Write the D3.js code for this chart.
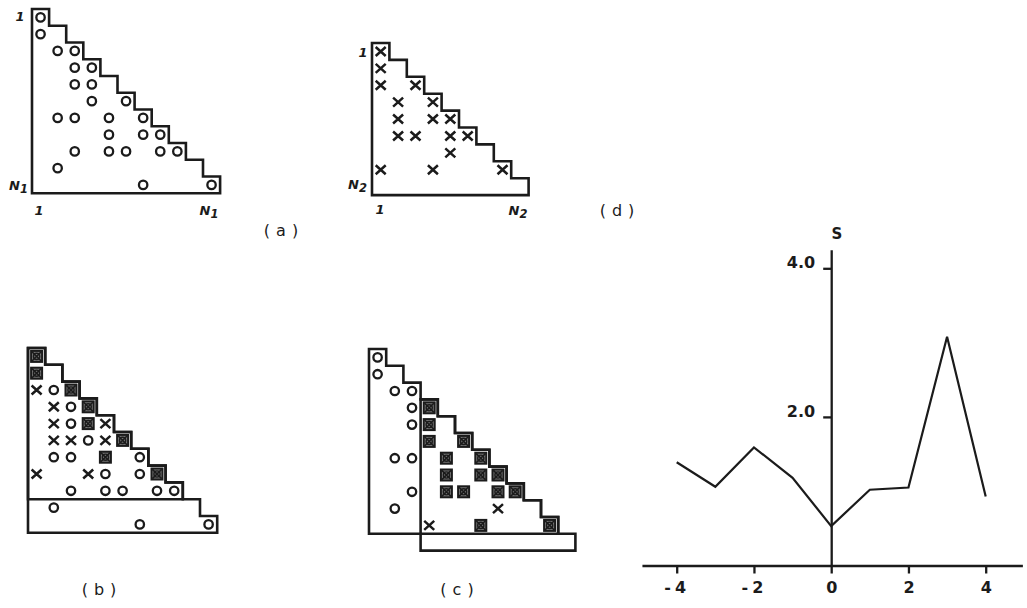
<!DOCTYPE html>
<html>
<head>
<meta charset="utf-8">
<script src="https://cdn.jsdelivr.net/npm/d3@7"></script>
<style>
  html, body { margin: 0; padding: 0; background: #fff; }
  svg { display: block; }
</style>
</head>
<body>
<svg id="fig" width="1027" height="608"></svg>
<script>
// Occupied cells of the first matrix (order N1), as [row, col]
const n1 = 11;
const cellsN1 = [
  [0,0],[1,0],[2,1],[2,2],[3,2],[3,3],[4,2],[4,3],[5,3],[5,5],
  [6,1],[6,2],[6,4],[6,6],[7,4],[7,6],[7,7],
  [8,2],[8,4],[8,5],[8,7],[8,8],[9,1],[10,6],[10,10]
];
// Occupied cells of the second matrix (order N2), as [row, col]
const n2 = 9;
const cellsN2 = [
  [0,0],[1,0],[2,0],[2,2],[3,1],[3,3],[4,1],[4,3],[4,4],
  [5,1],[5,2],[5,4],[5,5],[6,4],[7,0],[7,3],[7,7]
];
// Diagonal offsets at which the second matrix is laid over the first
const overlayOffsets = [0, 3];
// Similarity score S against relative shift
const shifts = [-4, -3, -2, -1, 0, 1, 2, 3, 4];
const scores = [1.39, 1.06, 1.59, 1.18, 0.53, 1.02, 1.05, 3.08, 0.93];
const shiftTicks = [-4, -2, 0, 2, 4];
const scoreTicks = [2, 4];
const panelLabels = ["(a)", "(b)", "(c)", "(d)"];

const ink = "#1b1b1b";
const svg = d3.select("#fig");
const font = "'DejaVu Sans', 'Noto Sans', sans-serif";

// Cell grid for one matrix drawing: column / row index -> pixel
function grid(left, top, w, h, n) {
  return {
    x: d3.scaleLinear().domain([0, n]).range([left, left + n * w]),
    y: d3.scaleLinear().domain([0, n]).range([top, top + n * h])
  };
}

// Outline of a lower-triangular block of order n whose corner sits at (off, off)
function stairOutline(g, sc, off, n) {
  const pts = [[off, off]];
  for (let i = 0; i < n; i++) {
    pts.push([off + i + 1, off + i]);
    pts.push([off + i + 1, off + i + 1]);
  }
  pts.push([off, off + n]);
  const line = d3.line().x(p => sc.x(p[0])).y(p => sc.y(p[1]));
  g.append("path")
    .attr("d", line(pts) + "Z")
    .attr("fill", "none")
    .attr("stroke", ink)
    .attr("stroke-width", 2.6)
    .attr("stroke-linejoin", "miter");
}

function drawCircle(g, cx, cy) {
  g.append("circle").attr("cx", cx).attr("cy", cy).attr("r", 4.2)
    .attr("fill", "none").attr("stroke", ink).attr("stroke-width", 2.3);
}
function drawCross(g, cx, cy) {
  g.append("path")
    .attr("d", `M${cx-5},${cy-4.5}L${cx+5},${cy+4.5}M${cx-5},${cy+4.5}L${cx+5},${cy-4.5}`)
    .attr("stroke", ink).attr("stroke-width", 2.5).attr("fill", "none");
}
function drawBoth(g, cx, cy) {
  g.append("rect").attr("x", cx - 5.5).attr("y", cy - 5.5).attr("width", 11).attr("height", 11)
    .attr("fill", "#7a7a7a").attr("stroke", ink).attr("stroke-width", 2);
  g.append("path")
    .attr("d", `M${cx-4.6},${cy-4.6}L${cx+4.6},${cy+4.6}M${cx-4.6},${cy+4.6}L${cx+4.6},${cy-4.6}`)
    .attr("stroke", ink).attr("stroke-width", 1.6);
  g.append("circle").attr("cx", cx).attr("cy", cy).attr("r", 3.1)
    .attr("fill", "none").attr("stroke", ink).attr("stroke-width", 1.4);
}

// Corner labels "1" and "N_k" beside a matrix
function indexLabel(x, y, sub, anchor) {
  const t = svg.append("text")
    .attr("x", x).attr("y", y)
    .attr("text-anchor", anchor)
    .attr("font-family", font)
    .attr("font-style", "italic")
    .attr("font-weight", "bold")
    .attr("font-size", 13)
    .attr("fill", ink);
  if (sub) {
    t.append("tspan").text("N");
    t.append("tspan").attr("dy", 3).attr("font-size", 11.5).text(sub);
  } else {
    t.text("1");
  }
}

function panelLabel(text, cx, baseline) {
  svg.append("text")
    .attr("x", cx).attr("y", baseline)
    .attr("text-anchor", "middle")
    .attr("font-family", font)
    .attr("font-size", 16)
    .attr("letter-spacing", 6)
    .attr("fill", ink)
    .text(text);
}

// ---------- first matrix alone ----------
{
  const sc = grid(32, 9, 17.1, 16.75, n1);
  const g = svg.append("g");
  stairOutline(g, sc, 0, n1);
  cellsN1.forEach(([r, c]) => drawCircle(g, sc.x(c + 0.5), sc.y(r + 0.5)));
  indexLabel(20, 21, null, "middle");
  indexLabel(28, 190, "1", "end");
  indexLabel(39, 215, null, "middle");
  indexLabel(209, 215, "1", "middle");
  panelLabel(panelLabels[0], 284, 236);
}

// ---------- second matrix alone ----------
{
  const sc = grid(372, 43, 17.4, 16.9, n2);
  const g = svg.append("g");
  stairOutline(g, sc, 0, n2);
  cellsN2.forEach(([r, c]) => drawCross(g, sc.x(c + 0.5), sc.y(r + 0.5)));
  indexLabel(363, 57, null, "middle");
  indexLabel(367, 189, "2", "end");
  indexLabel(380, 214, null, "middle");
  indexLabel(518, 215, "2", "middle");
}

// ---------- overlays of the second matrix on the first ----------
function overlay(left, top, off, label, labelX) {
  const sc = grid(left, top, 17.2, 16.8, n1 + 1);
  const g = svg.append("g");
  stairOutline(g, sc, 0, n1);
  stairOutline(g, sc, off, n2);
  const marks = new Map();
  cellsN1.forEach(([r, c]) => marks.set(r + "," + c, { r, c, o: true, x: false }));
  cellsN2.forEach(([r, c]) => {
    const k = (r + off) + "," + (c + off);
    if (marks.has(k)) marks.get(k).x = true;
    else marks.set(k, { r: r + off, c: c + off, o: false, x: true });
  });
  marks.forEach(m => {
    const cx = sc.x(m.c + 0.5), cy = sc.y(m.r + 0.5);
    if (m.o && m.x) drawBoth(g, cx, cy);
    else if (m.o) drawCircle(g, cx, cy);
    else drawCross(g, cx, cy);
  });
  panelLabel(label, labelX, 595);
}
overlay(28, 348, overlayOffsets[0], panelLabels[1], 102);
overlay(369, 349, overlayOffsets[1], panelLabels[2], 460);

// ---------- score against shift ----------
{
  const x = d3.scaleLinear().domain([-4, 4]).range([676.7, 985.7]);
  const y = d3.scaleLinear().domain([0, 4]).range([565.5, 268.3]);
  const xAxisScale = x.copy().domain([-4.9, 4.95]).range([x(-4.9), x(4.95)]);
  const yAxisScale = y.copy().domain([0, 4.25]).range([y(0), y(4.25)]);

  const gx = svg.append("g").attr("transform", `translate(0,${y(0)})`)
    .call(d3.axisBottom(xAxisScale).tickValues(shiftTicks).tickSize(8).tickSizeOuter(0).tickPadding(8)
      .tickFormat(d => d < 0 ? "-" + Math.abs(d) : String(d)));
  const gy = svg.append("g").attr("transform", `translate(${x(0)},0)`)
    .call(d3.axisLeft(yAxisScale).tickValues(scoreTicks).tickSize(8).tickSizeOuter(0).tickPadding(8)
      .tickFormat(d3.format(".1f")));

  [gx, gy].forEach(a => {
    a.select(".domain").attr("stroke", ink).attr("stroke-width", 2.3);
    a.selectAll(".tick line").attr("stroke", ink).attr("stroke-width", 2.3);
    a.selectAll(".tick text")
      .attr("fill", ink)
      .attr("font-family", font)
      .attr("font-weight", "bold")
      .attr("font-size", 16);
  });
  gx.selectAll(".tick text").attr("letter-spacing", d => d < 0 ? 4 : 0);
  gy.selectAll(".tick text").attr("dy", "-0.02em");

  svg.append("path")
    .datum(shifts.map((s, i) => [s, scores[i]]))
    .attr("d", d3.line().x(d => x(d[0])).y(d => y(d[1])))
    .attr("fill", "none")
    .attr("stroke", ink)
    .attr("stroke-width", 2.2)
    .attr("stroke-linejoin", "miter");

  svg.append("text")
    .attr("x", 837).attr("y", 239)
    .attr("text-anchor", "middle")
    .attr("font-family", font)
    .attr("font-weight", "bold")
    .attr("font-size", 15)
    .attr("fill", ink)
    .text("S");

  panelLabel(panelLabels[3], 620, 216);
}
</script>
</body>
</html>
